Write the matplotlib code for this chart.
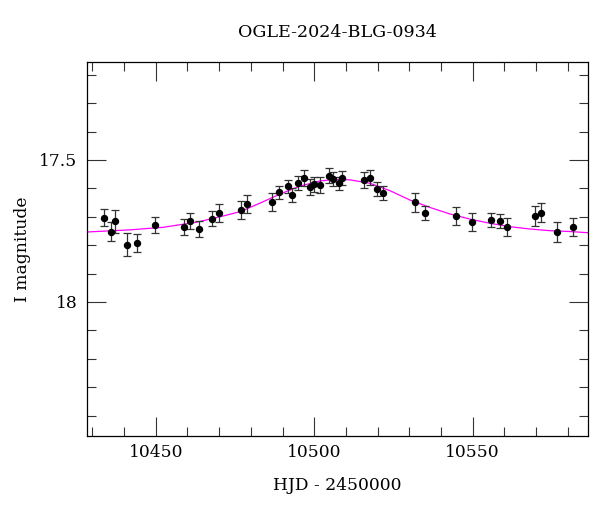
import matplotlib
matplotlib.use('Agg')
from matplotlib import pyplot as plt
from matplotlib.ticker import MultipleLocator, FormatStrFormatter

# Pontos observados (HJD - 2450000, magnitude I, erro)
hjd = [10433.8, 10435.8, 10437.1, 10441.0, 10444.1, 10449.9, 10458.8, 10460.9,
       10463.8, 10467.9, 10469.9, 10477.0, 10478.9, 10486.6, 10488.8, 10491.6,
       10492.9, 10494.9, 10496.8, 10498.6, 10500.0, 10501.9, 10504.6, 10506.0,
       10507.9, 10508.8, 10515.8, 10517.7, 10519.8, 10521.8, 10531.8, 10534.9,
       10544.6, 10549.7, 10555.8, 10558.7, 10560.7, 10569.6, 10571.6, 10576.6,
       10581.6]
mag = [17.703, 17.752, 17.716, 17.798, 17.792, 17.729, 17.735, 17.715,
       17.743, 17.707, 17.687, 17.676, 17.655, 17.649, 17.614, 17.593,
       17.623, 17.580, 17.562, 17.595, 17.585, 17.587, 17.556, 17.568,
       17.582, 17.564, 17.572, 17.562, 17.602, 17.617, 17.649, 17.687,
       17.698, 17.718, 17.712, 17.714, 17.737, 17.698, 17.685, 17.755,
       17.737]
err = [0.031, 0.032, 0.040, 0.040, 0.033, 0.029, 0.028, 0.028,
       0.028, 0.026, 0.031, 0.031, 0.032, 0.032, 0.022, 0.023,
       0.026, 0.024, 0.028, 0.027, 0.026, 0.028, 0.026, 0.025,
       0.023, 0.024, 0.028, 0.026, 0.026, 0.024, 0.033, 0.025,
       0.031, 0.031, 0.025, 0.025, 0.031, 0.036, 0.034, 0.035,
       0.031]

# Curva do modelo
model_t = [10428.4, 10441.9, 10452.4, 10462.9, 10470.3, 10476.6, 10482.9, 10489.2,
           10495.5, 10501.8, 10506.6, 10511.3, 10517.6, 10523.9, 10530.2, 10536.5,
           10542.8, 10549.1, 10555.5, 10561.8, 10568.1, 10574.4, 10580.7, 10586.3]
model_mag = [17.7535, 17.746, 17.737, 17.719, 17.700, 17.682, 17.652, 17.620,
             17.592, 17.574, 17.568, 17.570, 17.582, 17.608, 17.641, 17.667,
             17.690, 17.708, 17.723, 17.735, 17.743, 17.749, 17.752, 17.756]

plt.rcParams['font.family'] = ['DejaVu Serif']
plt.rcParams['font.size'] = 11

fig = plt.figure(figsize=(6, 5.12), dpi=100)
ax = fig.add_axes([0.145, 0.1484, 0.8345, 0.7305])

ax.plot(model_t, model_mag, color='#ff00ff', linewidth=0.9, zorder=2)
ax.errorbar(hjd, mag, yerr=err, fmt='o', color='black', ecolor='0.2',
            markersize=4.3, elinewidth=0.9, capsize=2.8, capthick=0.9, zorder=3)

ax.set_xlim(10428.3, 10586.3)
ax.set_ylim(18.472, 17.155)

ax.xaxis.set_major_locator(MultipleLocator(50))
ax.xaxis.set_minor_locator(MultipleLocator(10))
ax.yaxis.set_major_locator(MultipleLocator(0.5))
ax.yaxis.set_minor_locator(MultipleLocator(0.1))
ax.yaxis.set_major_formatter(FormatStrFormatter('%g'))

ax.tick_params(which='both', direction='in', top=True, right=True, width=0.8, color='0.2')
ax.tick_params(which='major', length=13.5, labelsize=12.3)
ax.tick_params(axis='x', which='major', pad=6)
ax.tick_params(axis='y', which='major', pad=7)
ax.tick_params(which='minor', length=6.8)
for s in ax.spines.values():
    s.set_linewidth(0.9)

ax.set_xlabel('HJD - 2450000', fontsize=12.3, labelpad=11)
ax.set_ylabel('I magnitude', fontsize=12.3, labelpad=6)
ax.set_title('OGLE-2024-BLG-0934', fontsize=12.6, pad=18)

fig.savefig('out.png', dpi=100)
